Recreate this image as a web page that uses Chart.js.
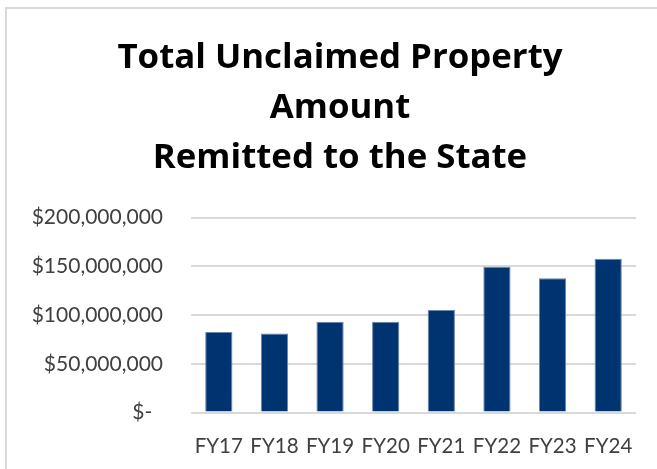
<!DOCTYPE html>
<html>
<head>
<meta charset="utf-8">
<script src="https://cdn.jsdelivr.net/npm/chart.js@4/dist/chart.umd.min.js"></script>
<style>
  html, body { margin: 0; padding: 0; background: #fff; overflow: hidden; }
  #wrap { width: 657px; height: 469px; position: relative; }
</style>
</head>
<body>
<div id="wrap"><canvas id="c" width="657" height="469"></canvas></div>
<script>
const categories = ["FY17", "FY18", "FY19", "FY20", "FY21", "FY22", "FY23", "FY24"];
const amounts = [82500000, 81000000, 93100000, 93100000, 105200000, 149600000, 137700000, 157700000];
const tickValues = [0, 50000000, 100000000, 150000000, 200000000];
const tickLabels = ["$-  ", "$50,000,000", "$100,000,000", "$150,000,000", "$200,000,000"];
const titleLines = ["Total Unclaimed Property", "Amount", "Remitted to the State"];

const frame = {
  id: 'frame',
  beforeDraw(chart) {
    const ctx = chart.ctx;
    ctx.save();
    ctx.strokeStyle = '#d9d9d9';
    ctx.lineWidth = 2;
    ctx.beginPath();
    ctx.moveTo(6, chart.height + 5);
    ctx.lineTo(6, 8);
    ctx.lineTo(chart.width + 5, 8);
    ctx.stroke();
    ctx.restore();
  }
};

// shift the title block so its centre sits where the reference title is
const titleShift = {
  id: 'titleShift',
  afterLayout(chart) {
    const t = chart.titleBlock;
    if (t) { t.left = 44; t.right = 636; }
  }
};

new Chart(document.getElementById('c'), {
  type: 'bar',
  data: {
    labels: categories,
    datasets: [{
      data: amounts,
      backgroundColor: '#003471',
      borderColor: '#6f86a8',
      borderWidth: 1,
      categoryPercentage: 1.0,
      barPercentage: 0.49
    }]
  },
  options: {
    responsive: false,
    animation: false,
    devicePixelRatio: 1,
    layout: { padding: { left: 0, right: 21, top: 0, bottom: 0 } },
    plugins: {
      legend: { display: false },
      tooltip: { enabled: false },
      title: {
        display: true,
        text: titleLines,
        color: '#000000',
        font: { family: 'Open Sans', size: 34.8, weight: 'bold', lineHeight: 50 / 34.8 },
        padding: { top: 33, bottom: 34.5 }
      }
    },
    scales: {
      x: {
        grid: { display: false, drawTicks: false },
        border: { display: false },
        ticks: {
          color: '#404040',
          font: { family: 'Lato', size: 20.5 },
          padding: 22,
          maxRotation: 0,
          autoSkip: false
        },
        afterFit(s) { s.height = 56.5; }
      },
      y: {
        min: 0,
        max: 200000000,
        afterBuildTicks(s) { s.ticks = tickValues.map(v => ({ value: v })); },
        grid: { color: '#d9d9d9', lineWidth: 2, drawTicks: false },
        border: { display: false },
        ticks: {
          color: '#404040',
          font: { family: 'Lato', size: 21 },
          padding: 28,
          callback: (v) => tickLabels[tickValues.indexOf(v)]
        },
        afterFit(s) { s.width = 191; }
      }
    }
  },
  plugins: [frame, titleShift]
});
</script>
</body>
</html>
